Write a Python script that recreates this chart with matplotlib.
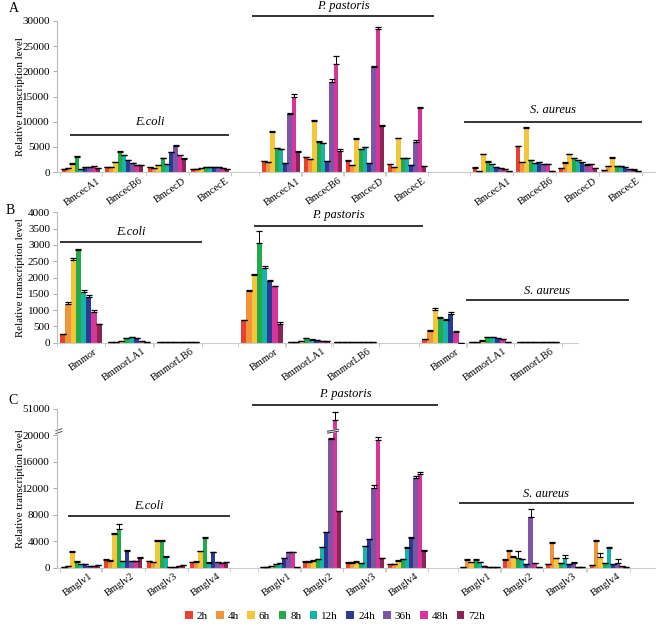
"""Relative transcription levels of AMP genes after bacterial / yeast challenge."""

import numpy as np
import matplotlib
matplotlib.use("Agg")
import matplotlib.pyplot as plt
from matplotlib.patches import Patch
import matplotlib.transforms as mtransforms

plt.rcParams["font.family"] = ["Liberation Serif", "DejaVu Serif"]

times = ["2h", "4h", "6h", "8h", "12h", "24h", "36h", "48h", "72h"]
colors = ["#e8412f", "#f0953b", "#f5c53a", "#21a94b", "#19b3a6",
          "#2b3a93", "#7d55a4", "#d7359b", "#8b2556"]
species = ["E.coli", "P. pastoris", "S. aureus"]

# ---- panel A: cecropins ----
a_genes = ["BmcecA1", "BmcecB6", "BmcecD", "BmcecE"]
a_ecoli = [[600, 800, 1600, 2900, 500, 1000, 1000, 1100, 800],
           [1000, 1000, 2000, 4000, 3400, 2300, 1800, 1400, 1300],
           [900, 800, 1300, 2700, 1500, 4000, 5200, 3300, 2600],
           [600, 650, 800, 1000, 1000, 1000, 1000, 850, 650]]
a_ecoli_err = [[50, 50, 100, 200, 0, 50, 50, 50, 50],
               [50, 50, 50, 250, 0, 100, 50, 50, 50],
               [50, 50, 50, 150, 50, 50, 250, 100, 150],
               [30, 30, 30, 30, 30, 30, 30, 30, 30]]
a_ppast = [[2100, 1900, 8000, 4700, 4500, 1700, 11600, 15000, 3900],
           [2900, 2500, 10200, 6000, 5700, 2200, 17900, 21500, 4100],
           [2200, 1300, 6500, 4500, 4900, 1700, 20800, 28500, 9200],
           [1500, 900, 6700, 2700, 2700, 1300, 5900, 12800, 1100]]
a_ppast_err = [[100, 50, 200, 100, 50, 50, 150, 400, 200],
               [100, 50, 150, 200, 50, 50, 500, 1500, 400],
               [100, 50, 200, 100, 50, 50, 200, 400, 100],
               [100, 50, 100, 100, 50, 50, 400, 200, 100]]
a_saur = [[800, 100, 3500, 2000, 1500, 1000, 800, 600, 150],
          [5100, 2000, 8800, 2400, 1800, 2000, 1600, 1600, 200],
          [800, 1800, 3500, 2800, 2300, 2000, 1400, 1500, 700],
          [300, 1200, 2800, 1200, 1200, 1000, 600, 450, 150]]
a_saur_err = [[100, 0, 150, 100, 50, 50, 50, 50, 30],
              [100, 50, 200, 50, 50, 50, 50, 50, 30],
              [50, 100, 150, 50, 50, 50, 100, 50, 50],
              [50, 50, 200, 50, 50, 50, 50, 50, 30]]

# ---- panel B: moricins (no 36h) ----
b_times = ["2h", "4h", "6h", "8h", "12h", "24h", "48h", "72h"]
b_genes = ["Bmmor", "BmmorLA1", "BmmorLB6"]
b_ecoli = [[270, 1200, 2550, 2830, 1550, 1400, 950, 560],
           [10, 20, 40, 140, 160, 140, 60, 30],
           [8, 8, 8, 8, 8, 8, 8, 8]]
b_ecoli_err = [[0, 50, 60, 50, 60, 50, 60, 0],
               [5, 5, 10, 10, 10, 10, 5, 5],
               [0, 0, 0, 0, 0, 0, 0, 0]]
b_ppast = [[700, 1600, 2080, 3060, 2280, 1880, 1730, 580],
           [20, 30, 40, 130, 90, 70, 50, 40],
           [8, 8, 8, 8, 8, 8, 8, 8]]
b_ppast_err = [[0, 30, 20, 360, 60, 40, 20, 70],
               [5, 5, 5, 10, 10, 5, 5, 5],
               [0, 0, 0, 0, 0, 0, 0, 0]]
b_saur = [[110, 360, 1000, 770, 700, 870, 340, 0],
          [10, 20, 60, 170, 160, 140, 110, 30],
          [8, 8, 8, 8, 8, 8, 8, 8]]
b_saur_err = [[0, 20, 60, 20, 20, 70, 20, 0],
              [5, 5, 10, 10, 10, 10, 10, 5],
              [0, 0, 0, 0, 0, 0, 0, 0]]

# ---- panel C: gloverins ----
c_genes = ["Bmglv1", "Bmglv2", "Bmglv3", "Bmglv4"]
c_ecoli = [[100, 300, 2400, 900, 500, 500, 200, 200, 400],
           [1200, 1050, 5100, 5900, 1000, 2550, 1000, 1000, 1500],
           [950, 800, 4050, 4050, 1650, 100, 150, 200, 400],
           [800, 900, 2500, 4550, 750, 2300, 800, 700, 850]]
c_ecoli_err = [[30, 30, 100, 50, 30, 30, 30, 30, 30],
               [80, 50, 100, 750, 50, 100, 50, 50, 80],
               [50, 50, 100, 100, 50, 30, 30, 30, 30],
               [50, 50, 100, 100, 50, 100, 50, 50, 50]]
c_ppast = [[50, 150, 300, 550, 650, 1400, 2300, 2300, 100],
           [900, 900, 1050, 1250, 3100, 5400, 19400, 38000, 8500],
           [750, 750, 900, 650, 3250, 4300, 12000, 19300, 1400],
           [500, 500, 1050, 1250, 3050, 4550, 13600, 14200, 2600]]
c_ppast_err = [[20, 20, 20, 30, 30, 50, 50, 50, 20],
               [50, 50, 50, 50, 50, 50, 200, 10000, 100],
               [50, 50, 100, 50, 50, 50, 500, 500, 100],
               [50, 50, 50, 50, 50, 50, 200, 200, 100]]
c_saur = [[100, 1150, 800, 1150, 850, 250, 150, 100, 50],
          [1200, 2550, 1650, 1450, 1250, 500, 7600, 650, 100],
          [550, 3800, 1400, 650, 1400, 500, 650, 150, 50],
          [400, 4100, 1650, 650, 3050, 550, 650, 200, 100]]
c_saur_err = [[30, 100, 50, 100, 50, 30, 30, 30, 20],
              [50, 100, 50, 1000, 50, 50, 1250, 50, 20],
              [50, 100, 50, 50, 550, 50, 150, 30, 20],
              [50, 100, 600, 50, 100, 50, 600, 30, 20]]

# layout (x in figure pixels, species bars in axes fraction)
W, H = 661, 626
a_centers = [81, 124, 167, 210, 281, 323, 365, 407, 492, 535, 578, 621]
b_centers = [81, 129, 178, 262, 309, 355, 443, 490, 538]
c_centers = [81, 123, 166, 209, 280, 322, 365, 407, 480, 522, 565, 609]
a_lines = [(71, 228, 0.247, 0.33), (253, 433, 1.03, 1.10), (465, 641, 0.333, 0.41)]
b_lines = [(61, 201, 0.775, 0.85), (255, 422, 0.897, 0.98), (467, 628, 0.327, 0.40)]
c_lines = [(69, 229, 0.328, 0.39), (253, 437, 1.025, 1.095), (460, 633, 0.406, 0.465)]

fig = plt.figure(figsize=(W / 100, H / 100), dpi=100)


def colors_used(n):
    if n == 9:
        return colors
    return [colors[times.index(t)] for t in b_times]


def panel(rect, xmax, centers, genes, data, errs, ncol, bw, spacing, lines, label_dx):
    ax = fig.add_axes([57 / W, 1 - rect[0] / H, (xmax - 57) / W, (rect[0] - rect[1]) / H])
    ax.set_xlim(57, xmax)
    ngen = len(genes)
    for s in range(3):
        for g in range(ngen):
            c = centers[s * ngen + g]
            vals = data[s][g]
            err = errs[s][g]
            xs = c + (np.arange(ncol) - (ncol - 1) / 2) * bw
            ax.bar(xs, vals, width=bw, color=colors_used(ncol), edgecolor="none", zorder=2)
            ax.errorbar(xs, vals, yerr=[np.zeros(ncol), err], fmt="none", ecolor="black",
                        elinewidth=0.7, capsize=2, capthick=0.9, zorder=3)
            ax.annotate(genes[g], xy=(c, 0), xycoords=("data", "axes fraction"),
                        xytext=(label_dx, -3), textcoords="offset points",
                        rotation=35, ha="right", va="top", rotation_mode="anchor",
                        fontsize=7.5)
    # group separators
    seps = sorted(set([c - spacing / 2 for c in centers] + [c + spacing / 2 for c in centers]))
    ax.set_xticks(seps)
    ax.set_xticklabels([])
    ax.tick_params(axis="x", length=3, color="#cccccc", width=0.7)
    ax.tick_params(axis="y", length=3, color="#aaaaaa", width=0.7, labelsize=8, pad=2)
    for side in ["top", "right"]:
        ax.spines[side].set_visible(False)
    ax.spines["left"].set_color("#bbbbbb")
    ax.spines["bottom"].set_color("#cccccc")
    ax.spines["left"].set_linewidth(0.8)
    ax.spines["bottom"].set_linewidth(0.8)
    trans = mtransforms.blended_transform_factory(ax.transData, ax.transAxes)
    for name, (x0, x1, ly, ty) in zip(species, lines):
        ax.plot([x0, x1], [ly, ly], color="#333333", lw=1.4, transform=trans, clip_on=False)
        ax.text((x0 + x1) / 2, ty, name, transform=trans, ha="center", va="center",
                fontsize=9, style="italic")
    ax.set_ylabel("Relative transcription level", fontsize=7.8)
    ax.yaxis.set_label_coords(-(57 - 25) / (xmax - 57), 0.5)
    return ax


axA = panel((172, 21), 655, a_centers, a_genes, [a_ecoli, a_ppast, a_saur],
            [a_ecoli_err, a_ppast_err, a_saur_err], 9, 4.3, 43, a_lines, 11)
axA.set_ylim(0, 30000)
axA.set_yticks(range(0, 30001, 5000))

axB = panel((342.7, 212.3), 578, b_centers, b_genes, [b_ecoli, b_ppast, b_saur],
            [b_ecoli_err, b_ppast_err, b_saur_err], 8, 5.2, 48, b_lines, 9)
axB.set_ylim(0, 4000)
axB.set_yticks(range(0, 4001, 500))


def fwd(v):
    v = np.asarray(v, dtype=float)
    return np.where(v <= 20000, v, 20000 + (v - 20000) * 4000 / 31000)


def inv(u):
    u = np.asarray(u, dtype=float)
    return np.where(u <= 20000, u, 20000 + (u - 20000) * 31000 / 4000)


axC = panel((567.7, 409), 655, c_centers, c_genes, [c_ecoli, c_ppast, c_saur],
            [c_ecoli_err, c_ppast_err, c_saur_err], 9, 4.3, 43, c_lines, 6)
axC.set_yscale("function", functions=(fwd, inv))
axC.set_ylim(0, 51000)
axC.set_yticks([0, 4000, 8000, 12000, 16000, 20000, 51000])
axC.set_yticklabels(["0", "4000", "8000", "12000", "16000", "20000", "51000"])

# break marks on axis and on the tallest bars
for dy in (0.0, 0.018):
    axC.plot([-0.002, 0.008], [0.845 + dy, 0.858 + dy], color="#555555", lw=0.7,
             transform=axC.transAxes, clip_on=False)
tc = mtransforms.blended_transform_factory(axC.transData, axC.transAxes)
bx0, bx1 = 327.5, 338.5
axC.fill([bx0, bx1, bx1, bx0], [0.848, 0.860, 0.872, 0.860], color="white", transform=tc, zorder=4)
for dy in (0.0, 0.012):
    axC.plot([bx0, bx1], [0.848 + dy, 0.860 + dy], color="#333333", lw=0.7, transform=tc, zorder=5)

for lab, (x, y) in zip(["A", "B", "C"], [(9, 9), (6, 210), (8, 401)]):
    fig.text(x / W, 1 - y / H, lab, fontsize=10, ha="left", va="center")

handles = [Patch(facecolor=c, edgecolor="none", label=t) for c, t in zip(colors, times)]
fig.legend(handles=handles, loc="center", bbox_to_anchor=(335 / W, 1 - 616 / H), ncol=9,
           frameon=False, fontsize=8, handlelength=0.7, handleheight=0.7,
           handletextpad=0.35, columnspacing=0.75)

fig.savefig("out.png", dpi=100)
